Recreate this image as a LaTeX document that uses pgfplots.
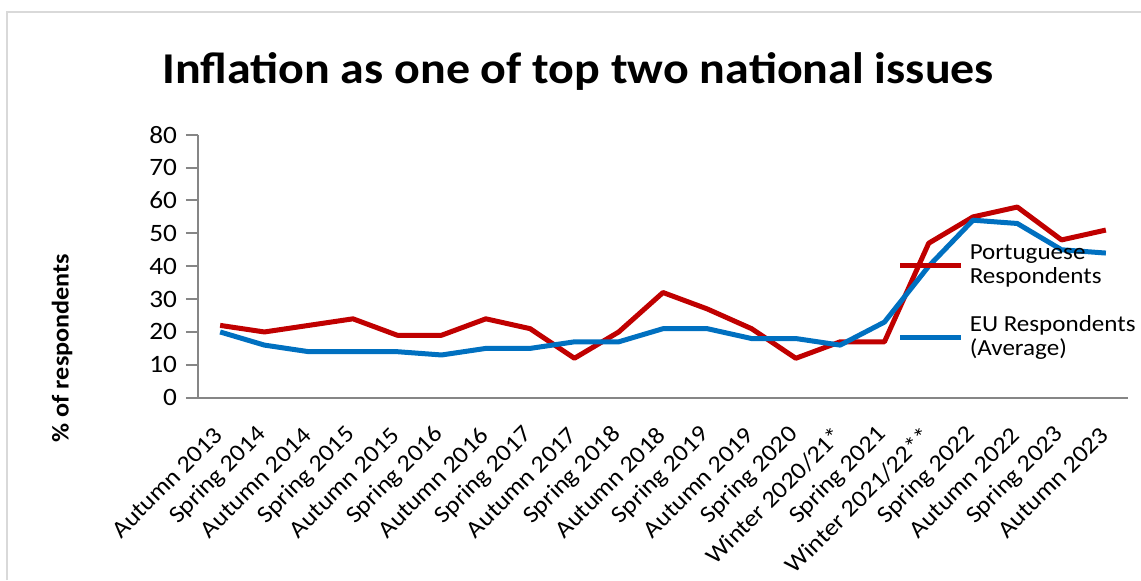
\documentclass[border=0pt]{standalone}
\usepackage{fontspec}
\setmainfont{Carlito}[FakeStretch=1.09]
\usepackage{pgfplots}
\usepackage{pgfplotstable}
\pgfplotsset{compat=1.18}
\definecolor{ptred}{HTML}{C00000}
\definecolor{eublue}{HTML}{0070C0}
\definecolor{axgray}{HTML}{868686}
\definecolor{bordergray}{HTML}{D9D9D9}
\pgfplotstableread{
x pt eu
0.5 22 20
1.5 20 16
2.5 22 14
3.5 24 14
4.5 19 14
5.5 19 13
6.5 24 15
7.5 21 15
8.5 12 17
9.5 20 17
10.5 32 21
11.5 27 21
12.5 21 18
13.5 12 18
14.5 17 16
15.5 17 23
16.5 47 40
17.5 55 54
18.5 58 53
19.5 48 45
20.5 51 44
}\datatable
\begin{document}
\begin{tikzpicture}
\useasboundingbox (0,0) rectangle (570.5pt,-290pt);
\draw[bordergray, line width=1pt] (3.5pt,-290pt) -- (3.5pt,-6pt) -- (570.5pt,-6pt);
\node[font=\fontsize{22}{26}\selectfont\bfseries, anchor=base] at (289pt,-41.5pt) {Inflation as one of top two national issues};
\node[font=\fontsize{12}{14}\selectfont\bfseries, rotate=90] at (31pt,-174pt) {\% of respondents};
\begin{axis}[
  at={(99pt,-198.85pt)}, anchor=south west,
  scale only axis, width=465pt, height=131.5pt,
  xmin=0, xmax=21, ymin=0, ymax=80,
  axis lines*=left,
  axis line style={draw=axgray, line width=1pt, -},
  ytick={0,10,...,80},
  xtick={0.5,1.5,...,20.5},
  xticklabels={Autumn 2013,Spring 2014,Autumn 2014,Spring 2015,Autumn 2015,Spring 2016,Autumn 2016,Spring 2017,Autumn 2017,Spring 2018,Autumn 2018,Spring 2019,Autumn 2019,Spring 2020,Winter 2020/21*,Spring 2021,Winter 2021/22**,Spring 2022,Autumn 2022,Spring 2023,Autumn 2023},
  minor xtick={0,1,...,21},
  tick align=outside,
  major tick length=6pt,
  minor tick length=5.5pt,
  tick style={draw=axgray, line width=1pt},
  xtick style={draw=none},
  x tick label style={rotate=45, anchor=east, font=\fontsize{12}{14}\selectfont, inner sep=1pt, xshift=-7pt, yshift=-7pt},
  y tick label style={font=\fontsize{12.5}{14}\selectfont, xshift=-1pt},
  /pgf/number format/assume math mode=true,
  legend cell align=left,
  legend style={at={(0.752,0.59)}, anchor=north west, draw=none, fill=none,
    inner sep=0pt, row sep=12.5pt,
    font=\fontsize{11.5}{12}\selectfont,
    nodes={align=left, inner sep=1pt}},
  legend image code/.code={\draw[#1] (0pt,0pt) -- (30.5pt,0pt);},
]
\addplot[ptred, line width=2.5pt, line join=round] table[x=x, y=pt] {\datatable};
\addlegendentry{\hspace{2pt}Portuguese\\\hspace{2pt}Respondents}
\addplot[eublue, line width=2.5pt, line join=round] table[x=x, y=eu] {\datatable};
\addlegendentry{\hspace{2pt}EU Respondents\\\hspace{2pt}(Average)}
\end{axis}
\end{tikzpicture}
\end{document}
